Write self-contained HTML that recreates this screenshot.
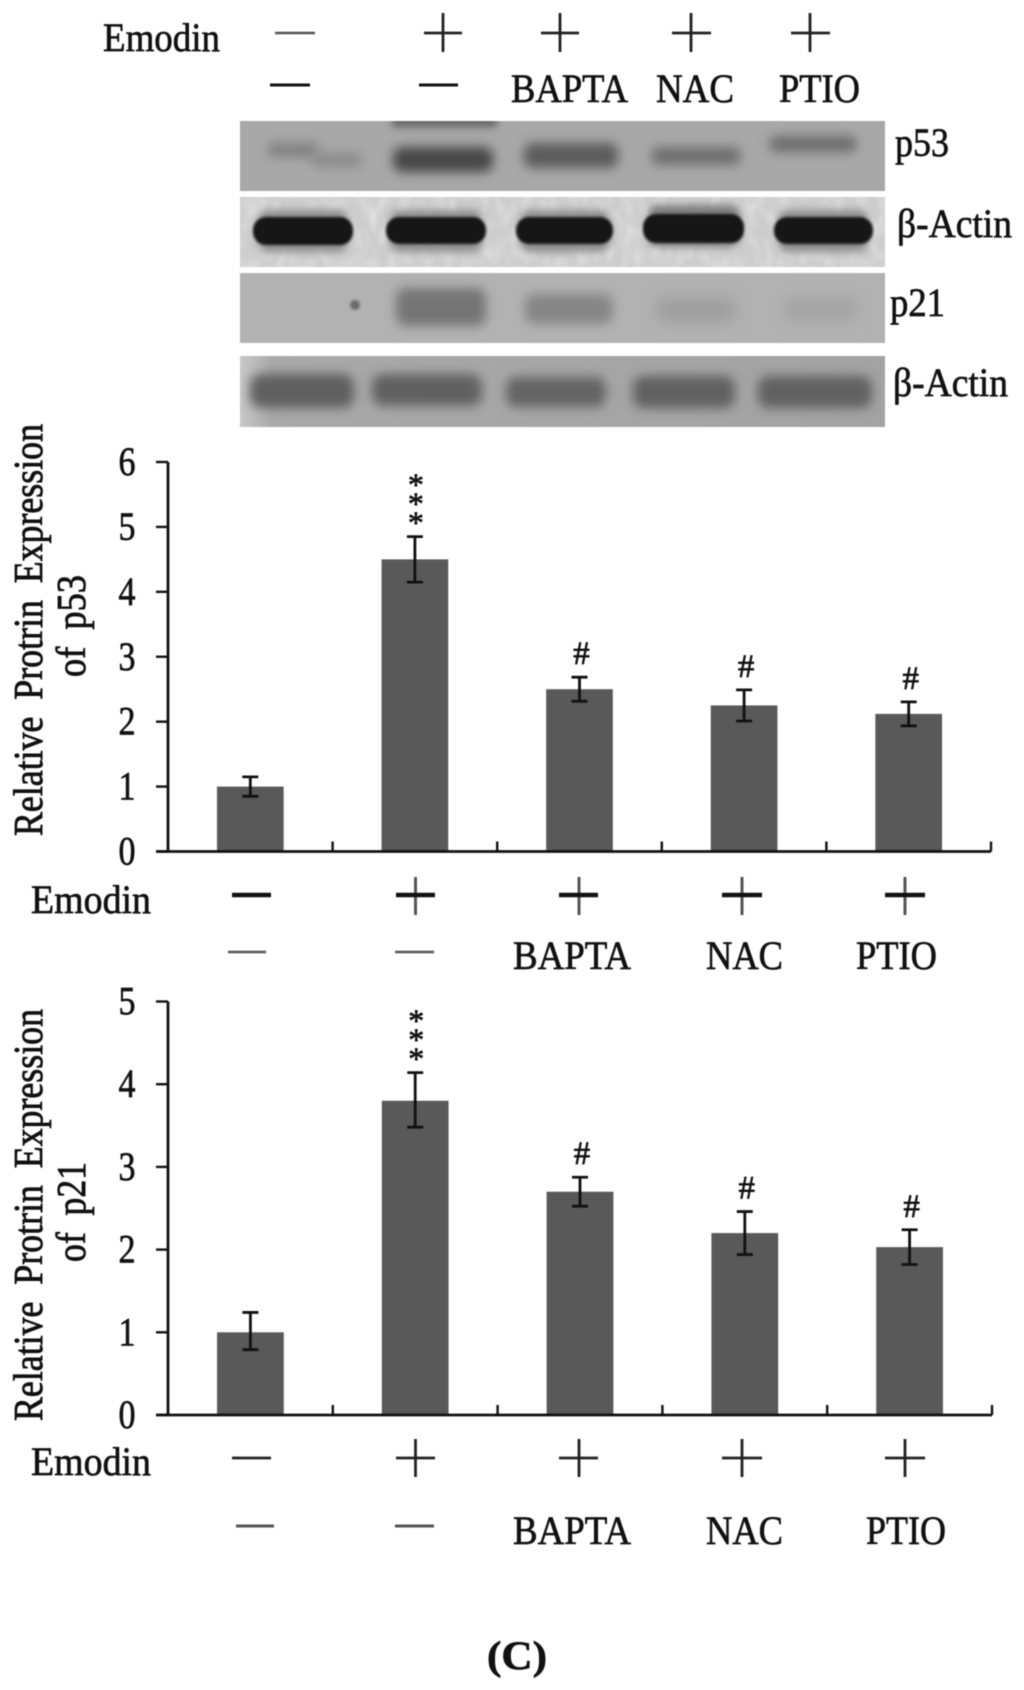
<!DOCTYPE html>
<html lang="en">
<head>
<meta charset="utf-8">
<title>Emodin p53 and p21 expression</title>
<style>
html,body{margin:0;padding:0;background:#fff;}
#figure{display:block;width:1024px;height:1690px;filter:blur(.5px);}
text{font-family:"Liberation Serif",serif;fill:#111;stroke:#111;stroke-width:.65px;}
.lab{font-size:40px;}
.title{font-size:41px;word-spacing:9px;stroke-width:.8px;}
.tick{font-size:40px;text-anchor:middle;}
</style>
</head>
<body>
<svg id="figure" xmlns="http://www.w3.org/2000/svg" width="1024" height="1690" viewBox="0 0 1024 1690">
<defs>
<filter id="b1" x="-20%" y="-40%" width="140%" height="180%"><feGaussianBlur stdDeviation="1.4"/></filter>
<filter id="b3" x="-20%" y="-100%" width="140%" height="300%"><feGaussianBlur stdDeviation="4"/></filter>
<filter id="b5" x="-30%" y="-120%" width="160%" height="340%"><feGaussianBlur stdDeviation="5.5"/></filter>
<filter id="b8" x="-30%" y="-120%" width="160%" height="340%"><feGaussianBlur stdDeviation="8"/></filter>
<filter id="grain" x="0" y="0" width="100%" height="100%"><feTurbulence type="fractalNoise" baseFrequency="0.09 0.05" numOctaves="2" seed="7"/><feColorMatrix type="matrix" values="0 0 0 0 1  0 0 0 0 1  0 0 0 0 1  0.9 0 0 0 -0.36"/><feGaussianBlur stdDeviation="1.5"/></filter>
<linearGradient id="edge" x1="0" x2="1" y1="0" y2="0"><stop offset="0" stop-color="#c8c8c8"/><stop offset=".05" stop-color="#a9a9a9"/><stop offset="1" stop-color="#a3a3a3"/></linearGradient>
<clipPath id="r1"><rect x="240" y="121" width="645" height="70"/></clipPath>
<clipPath id="r2"><rect x="240" y="197" width="645" height="70"/></clipPath>
<clipPath id="r3"><rect x="240" y="273" width="645" height="70"/></clipPath>
<clipPath id="r4"><rect x="240" y="356" width="645" height="71"/></clipPath>
</defs>
<rect width="1024" height="1690" fill="#fff"/>

<g>
<text class="lab" x="103" y="51" textLength="117" lengthAdjust="spacingAndGlyphs">Emodin</text>
<line x1="275" y1="33" x2="315" y2="33" stroke="#555" stroke-width="2.500"/>
<g stroke="#222" stroke-width="2.800"><line x1="424" y1="33" x2="462" y2="33"/><line x1="443" y1="13" x2="443" y2="52"/></g>
<g stroke="#222" stroke-width="2.800"><line x1="541" y1="33" x2="579" y2="33"/><line x1="560" y1="13" x2="560" y2="52"/></g>
<g stroke="#222" stroke-width="2.800"><line x1="672" y1="33" x2="711" y2="33"/><line x1="691" y1="13" x2="691" y2="52"/></g>
<g stroke="#222" stroke-width="2.800"><line x1="791" y1="33" x2="830" y2="33"/><line x1="810" y1="13" x2="810" y2="52"/></g>
<line x1="270" y1="85" x2="310" y2="85" stroke="#111" stroke-width="3"/>
<line x1="419" y1="85" x2="458" y2="85" stroke="#111" stroke-width="3"/>
<text class="lab" x="511" y="102" textLength="117" lengthAdjust="spacingAndGlyphs">BAPTA</text>
<text class="lab" x="656" y="102" textLength="78" lengthAdjust="spacingAndGlyphs">NAC</text>
<text class="lab" x="779" y="102" textLength="81" lengthAdjust="spacingAndGlyphs">PTIO</text>
</g>

<g clip-path="url(#r1)">
<rect x="240" y="121" width="645" height="70" fill="#a8a8a8"/>
<rect x="392" y="114" width="105" height="13" fill="#666" filter="url(#b3)"/>
<rect x="268" y="143" width="50" height="14" rx="4" fill="#808080" filter="url(#b5)"/>
<rect x="312" y="153" width="50" height="14" rx="4" fill="#8a8a8a" filter="url(#b5)"/>
<rect x="393" y="147" width="100" height="25" rx="9" fill="#474747" filter="url(#b5)"/>
<rect x="524" y="143" width="94" height="25" rx="8" fill="#5c5c5c" filter="url(#b5)"/>
<rect x="652" y="147" width="88" height="18" rx="5" fill="#6e6e6e" filter="url(#b5)"/>
<rect x="770" y="136" width="86" height="16" rx="4" fill="#6c6c6c" filter="url(#b5)"/>
</g>
<g clip-path="url(#r2)">
<rect x="240" y="197" width="645" height="70" fill="#cdcdcd"/>
<rect x="240" y="197" width="645" height="70" filter="url(#grain)"/>
<rect x="258" y="210" width="90" height="42" rx="10" fill="#8c8c8c" filter="url(#b3)"/>
<rect x="390" y="210" width="92" height="42" rx="10" fill="#8c8c8c" filter="url(#b3)"/>
<rect x="520" y="210" width="90" height="42" rx="10" fill="#8c8c8c" filter="url(#b3)"/>
<rect x="648" y="205" width="92" height="42" rx="10" fill="#7c7c7c" filter="url(#b3)"/>
<rect x="778" y="210" width="90" height="42" rx="10" fill="#8c8c8c" filter="url(#b3)"/>
<rect x="253" y="217" width="100" height="28" rx="13" fill="#161616" filter="url(#b1)"/>
<rect x="386" y="217" width="100" height="27" rx="13" fill="#161616" filter="url(#b1)"/>
<rect x="516" y="217" width="97" height="27" rx="13" fill="#161616" filter="url(#b1)"/>
<rect x="643" y="214" width="101" height="29" rx="13" fill="#161616" filter="url(#b1)"/>
<rect x="774" y="217" width="99" height="27" rx="13" fill="#161616" filter="url(#b1)"/>
</g>
<g clip-path="url(#r3)">
<rect x="240" y="273" width="645" height="70" fill="#b2b2b2"/>
<circle cx="355" cy="305" r="5" fill="#6a6a6a" filter="url(#b1)"/>
<rect x="396" y="288" width="90" height="38" rx="10" fill="#747474" filter="url(#b5)"/>
<rect x="525" y="294" width="88" height="30" rx="10" fill="#858585" filter="url(#b5)"/>
<rect x="656" y="298" width="80" height="24" rx="10" fill="#9c9c9c" filter="url(#b8)"/>
<rect x="784" y="298" width="74" height="22" rx="10" fill="#a2a2a2" filter="url(#b8)"/>
</g>
<g clip-path="url(#r4)">
<rect x="240" y="356" width="645" height="71" fill="url(#edge)"/>
<rect x="250" y="374" width="104" height="34" rx="11" fill="#5e5e5e" filter="url(#b5)"/>
<rect x="372" y="374" width="110" height="32" rx="11" fill="#616161" filter="url(#b5)"/>
<rect x="506" y="377" width="100" height="30" rx="10" fill="#636363" filter="url(#b5)"/>
<rect x="633" y="376" width="102" height="32" rx="10" fill="#616161" filter="url(#b5)"/>
<rect x="758" y="376" width="114" height="32" rx="10" fill="#606060" filter="url(#b5)"/>
</g>
<text class="lab" x="895" y="156" textLength="54" lengthAdjust="spacingAndGlyphs">p53</text>
<text class="lab" x="897" y="237" textLength="115" lengthAdjust="spacingAndGlyphs">β-Actin</text>
<text class="lab" x="890" y="316" textLength="55" lengthAdjust="spacingAndGlyphs">p21</text>
<text class="lab" x="893" y="396" textLength="115" lengthAdjust="spacingAndGlyphs">β-Actin</text>

<g id="chart-p53">
<text class="title" transform="translate(42,836) rotate(-90)" textLength="412" lengthAdjust="spacingAndGlyphs">Relative Protrin Expression</text>
<text class="title" transform="translate(85,677) rotate(-90)" textLength="102" lengthAdjust="spacingAndGlyphs">of p53</text>
</g>
<g>
<text class="lab" x="31" y="913" textLength="120" lengthAdjust="spacingAndGlyphs">Emodin</text>
<line x1="232" y1="895" x2="271" y2="895" stroke="#111" stroke-width="4.500"/>
<g><line x1="415.500" y1="877" x2="415.500" y2="915" stroke="#555" stroke-width="3"/><line x1="396" y1="895" x2="435" y2="895" stroke="#111" stroke-width="4.500"/></g>
<g><line x1="579" y1="877" x2="579" y2="915" stroke="#555" stroke-width="3"/><line x1="559" y1="895" x2="598" y2="895" stroke="#111" stroke-width="4.500"/></g>
<g><line x1="742" y1="877" x2="742" y2="915" stroke="#555" stroke-width="3"/><line x1="722" y1="895" x2="762" y2="895" stroke="#111" stroke-width="4.500"/></g>
<g><line x1="905" y1="877" x2="905" y2="915" stroke="#555" stroke-width="3"/><line x1="885" y1="895" x2="925" y2="895" stroke="#111" stroke-width="4.500"/></g>
<line x1="228" y1="952" x2="266" y2="952" stroke="#555" stroke-width="2.500"/>
<line x1="395" y1="952" x2="434" y2="952" stroke="#555" stroke-width="2.500"/>
<text class="lab" x="513" y="969" textLength="118" lengthAdjust="spacingAndGlyphs">BAPTA</text>
<text class="lab" x="706" y="969" textLength="77" lengthAdjust="spacingAndGlyphs">NAC</text>
<text class="lab" x="856" y="969" textLength="81" lengthAdjust="spacingAndGlyphs">PTIO</text>
</g>

<g id="chart-p21">
<text class="title" transform="translate(42,1421) rotate(-90)" textLength="412" lengthAdjust="spacingAndGlyphs">Relative Protrin Expression</text>
<text class="title" transform="translate(85,1262) rotate(-90)" textLength="100" lengthAdjust="spacingAndGlyphs">of p21</text>
</g>
<g>
<text class="lab" x="31" y="1475" textLength="120" lengthAdjust="spacingAndGlyphs">Emodin</text>
<line x1="232" y1="1458" x2="271" y2="1458" stroke="#222" stroke-width="2.800"/>
<g stroke="#222" stroke-width="2.800"><line x1="415.500" y1="1439" x2="415.500" y2="1477"/><line x1="396" y1="1458" x2="435" y2="1458"/></g>
<g stroke="#222" stroke-width="2.800"><line x1="579" y1="1439" x2="579" y2="1477"/><line x1="559" y1="1458" x2="598" y2="1458"/></g>
<g stroke="#222" stroke-width="2.800"><line x1="742" y1="1439" x2="742" y2="1477"/><line x1="722" y1="1458" x2="762" y2="1458"/></g>
<g stroke="#222" stroke-width="2.800"><line x1="905" y1="1439" x2="905" y2="1477"/><line x1="885" y1="1458" x2="925" y2="1458"/></g>
<line x1="236" y1="1526" x2="274" y2="1526" stroke="#555" stroke-width="3"/>
<line x1="395" y1="1526" x2="434" y2="1526" stroke="#555" stroke-width="3"/>
<text class="lab" x="513" y="1544" textLength="118" lengthAdjust="spacingAndGlyphs">BAPTA</text>
<text class="lab" x="706" y="1544" textLength="77" lengthAdjust="spacingAndGlyphs">NAC</text>
<text class="lab" x="866" y="1544" textLength="80" lengthAdjust="spacingAndGlyphs">PTIO</text>
</g>
<text x="487" y="1669" font-size="40" font-weight="bold" textLength="60" lengthAdjust="spacingAndGlyphs">(C)</text>
</svg>

<script>
var categories = ['Control', 'Emodin', 'Emodin+BAPTA', 'Emodin+NAC', 'Emodin+PTIO'];
var markers = ['', '***', '#', '#', '#'];
var p53Values = [1, 4.5, 2.5, 2.25, 2.12];
var p53ErrorUp = [0.15, 0.35, 0.185, 0.24, 0.185];
var p53ErrorDown = [0.15, 0.35, 0.185, 0.24, 0.185];
var p53Ticks = [0, 1, 2, 3, 4, 5, 6];
var p21Values = [1, 3.8, 2.7, 2.2, 2.03];
var p21ErrorUp = [0.24, 0.34, 0.175, 0.26, 0.21];
var p21ErrorDown = [0.21, 0.32, 0.175, 0.26, 0.21];
var p21Ticks = [0, 1, 2, 3, 4, 5];

var SVGNS = 'http://www.w3.org/2000/svg';

function shape(parent, tag, attrs) {
  var el = document.createElementNS(SVGNS, tag);
  for (var k in attrs) { el.setAttribute(k, attrs[k]); }
  parent.appendChild(el);
  return el;
}

function drawChart(rootId, prefix, values, errUp, errDown, ticks, bottom, top, left, right) {
  var root = document.getElementById(rootId);
  var maxTick = ticks[ticks.length - 1];
  var n = categories.length;
  var band = (right - left) / n;
  var barWidth = band * 0.405;
  function yScale(v) { return bottom - (v / maxTick) * (bottom - top); }
  function xScale(i) { return left + band * (i + 0.5); }

  values.forEach(function (v, i) {
    var cx = xScale(i);
    var bar = shape(root, 'rect', { x: cx - barWidth / 2, y: yScale(v), width: barWidth, height: bottom - yScale(v), fill: '#595959' });
    
    

    var errTop = yScale(v + errUp[i]);
    var errBottom = yScale(v - errDown[i]);
    var err = shape(root, 'path', {
      d: 'M' + cx + ' ' + errTop + 'V' + errBottom + 'M' + (cx - 8) + ' ' + errTop + 'H' + (cx + 8) + 'M' + (cx - 8) + ' ' + errBottom + 'H' + (cx + 8),
      stroke: '#111', 'stroke-width': 2.8, fill: 'none'
    });
    
    

    var marker = markers[i];
    if (marker === '#') {
      var hash = shape(root, 'text', { x: cx + 2, y: errTop - 13, 'font-size': 33, 'text-anchor': 'middle' });
      hash.textContent = marker;
      
      
    } else if (marker) {
      for (var s = 0; s < marker.length; s++) {
        var star = shape(root, 'text', { x: cx + 1, y: errTop - 3 - s * 19, 'font-size': 32, 'text-anchor': 'middle' });
        star.textContent = marker.charAt(s);
        
        
      }
    }
  });

  var yAxis = shape(root, 'line', { x1: left, y1: top, x2: left, y2: bottom, stroke: '#111', 'stroke-width': 2.8 });
  
  

  var xAxis = shape(root, 'line', { x1: left - 12, y1: bottom, x2: right, y2: bottom, stroke: '#111', 'stroke-width': 2.8 });
  
  

  ticks.forEach(function (t) {
    var y = yScale(t);
    var mark = shape(root, 'line', { x1: left - 12, y1: y, x2: left, y2: y, stroke: '#111', 'stroke-width': 2.4 });
    
    
    var label = shape(root, 'text', { 'class': 'tick', x: 127, y: y + 13, textLength: 17, lengthAdjust: 'spacingAndGlyphs' });
    label.textContent = String(t);
    
    
  });

  for (var i = 1; i <= n; i++) {
    var tx = left + band * i;
    var xt = shape(root, 'line', { x1: tx, y1: bottom - 10, x2: tx, y2: bottom, stroke: '#111', 'stroke-width': 2.4 });
    
    
  }
}

drawChart('chart-p53', 'p53', p53Values, p53ErrorUp, p53ErrorDown, p53Ticks, 851.5, 462, 168, 991);
drawChart('chart-p21', 'p21', p21Values, p21ErrorUp, p21ErrorDown, p21Ticks, 1415, 1001.5, 168, 992);
</script>
</body>
</html>
